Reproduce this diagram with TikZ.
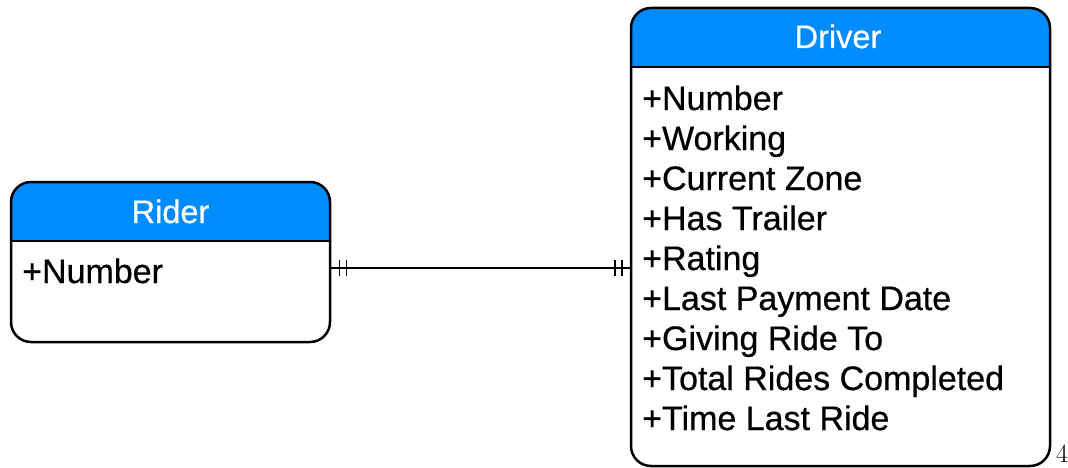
\documentclass[tikz,border=0pt]{standalone}
\usepackage{fontspec}
\newfontfamily\erfont[FakeBold=0.6]{Liberation Sans}
\usetikzlibrary{decorations.markings}
\definecolor{hdrblue}{RGB}{0,140,255}
\tikzset{
  entity/.style={draw=black, line width=2.5pt, rounded corners=20pt, fill=white, inner sep=0pt,
    path picture={
      \fill[hdrblue, sharp corners] (path picture bounding box.north west) rectangle ([yshift=-59pt]path picture bounding box.north east);
      \draw[line width=2.5pt, sharp corners] ([yshift=-59pt]path picture bounding box.north west) -- ([yshift=-59pt]path picture bounding box.north east);
    }},
  title/.style={anchor=base, text=white, font=\erfont\fontsize{32.5}{36}\selectfont, inner sep=0pt},
  field/.style={anchor=base west, font=\erfont\fontsize{34}{38}\selectfont, inner sep=0pt},
  onlyone/.style={line width=1.5pt, postaction={decorate, decoration={markings,
    mark=at position 8pt with {\draw[line width=1.5pt] (0,-8pt) -- (0,8pt);},
    mark=at position 15pt with {\draw[line width=1.5pt] (0,-8pt) -- (0,8pt);},
    mark=at position -8pt with {\draw[line width=1.5pt] (0,-8pt) -- (0,8pt);},
    mark=at position -15pt with {\draw[line width=1.5pt] (0,-8pt) -- (0,8pt);}}}}
}
\begin{document}
\begin{tikzpicture}[x=1pt,y=-1pt]
  \useasboundingbox (0,0) rectangle (1068,468);
  % entities
  \node[entity, minimum width=319pt, minimum height=160pt] (rider) at (170.5,262) {};
  \node[entity, minimum width=419pt, minimum height=458pt] (driver) at (840.5,237) {};
  \node[title] (ridert) at (170.5,223) {Rider};
  \node[title] (drivert) at (838,48) {Driver};
  % fields
  \node[field] (rnum) at (22,283) {+Number};
  \foreach \f [count=\i from 0] in {Number,Working,Current Zone,Has Trailer,Rating,Last Payment Date,Giving Ride To,Total Rides Completed,Time Last Ride}
    \node[field] (d\i) at (642,110+40*\i) {+\f};
  % relation
  \coordinate (link) at ([yshift=3pt]rnum.west);
  \draw[onlyone] (rider.east |- link) -- (driver.west |- link);
  % page number
  \node[anchor=base, font=\fontsize{26}{28}\selectfont, inner sep=0pt] (pagenum) at (1062,462) {4};
\end{tikzpicture}
\end{document}
